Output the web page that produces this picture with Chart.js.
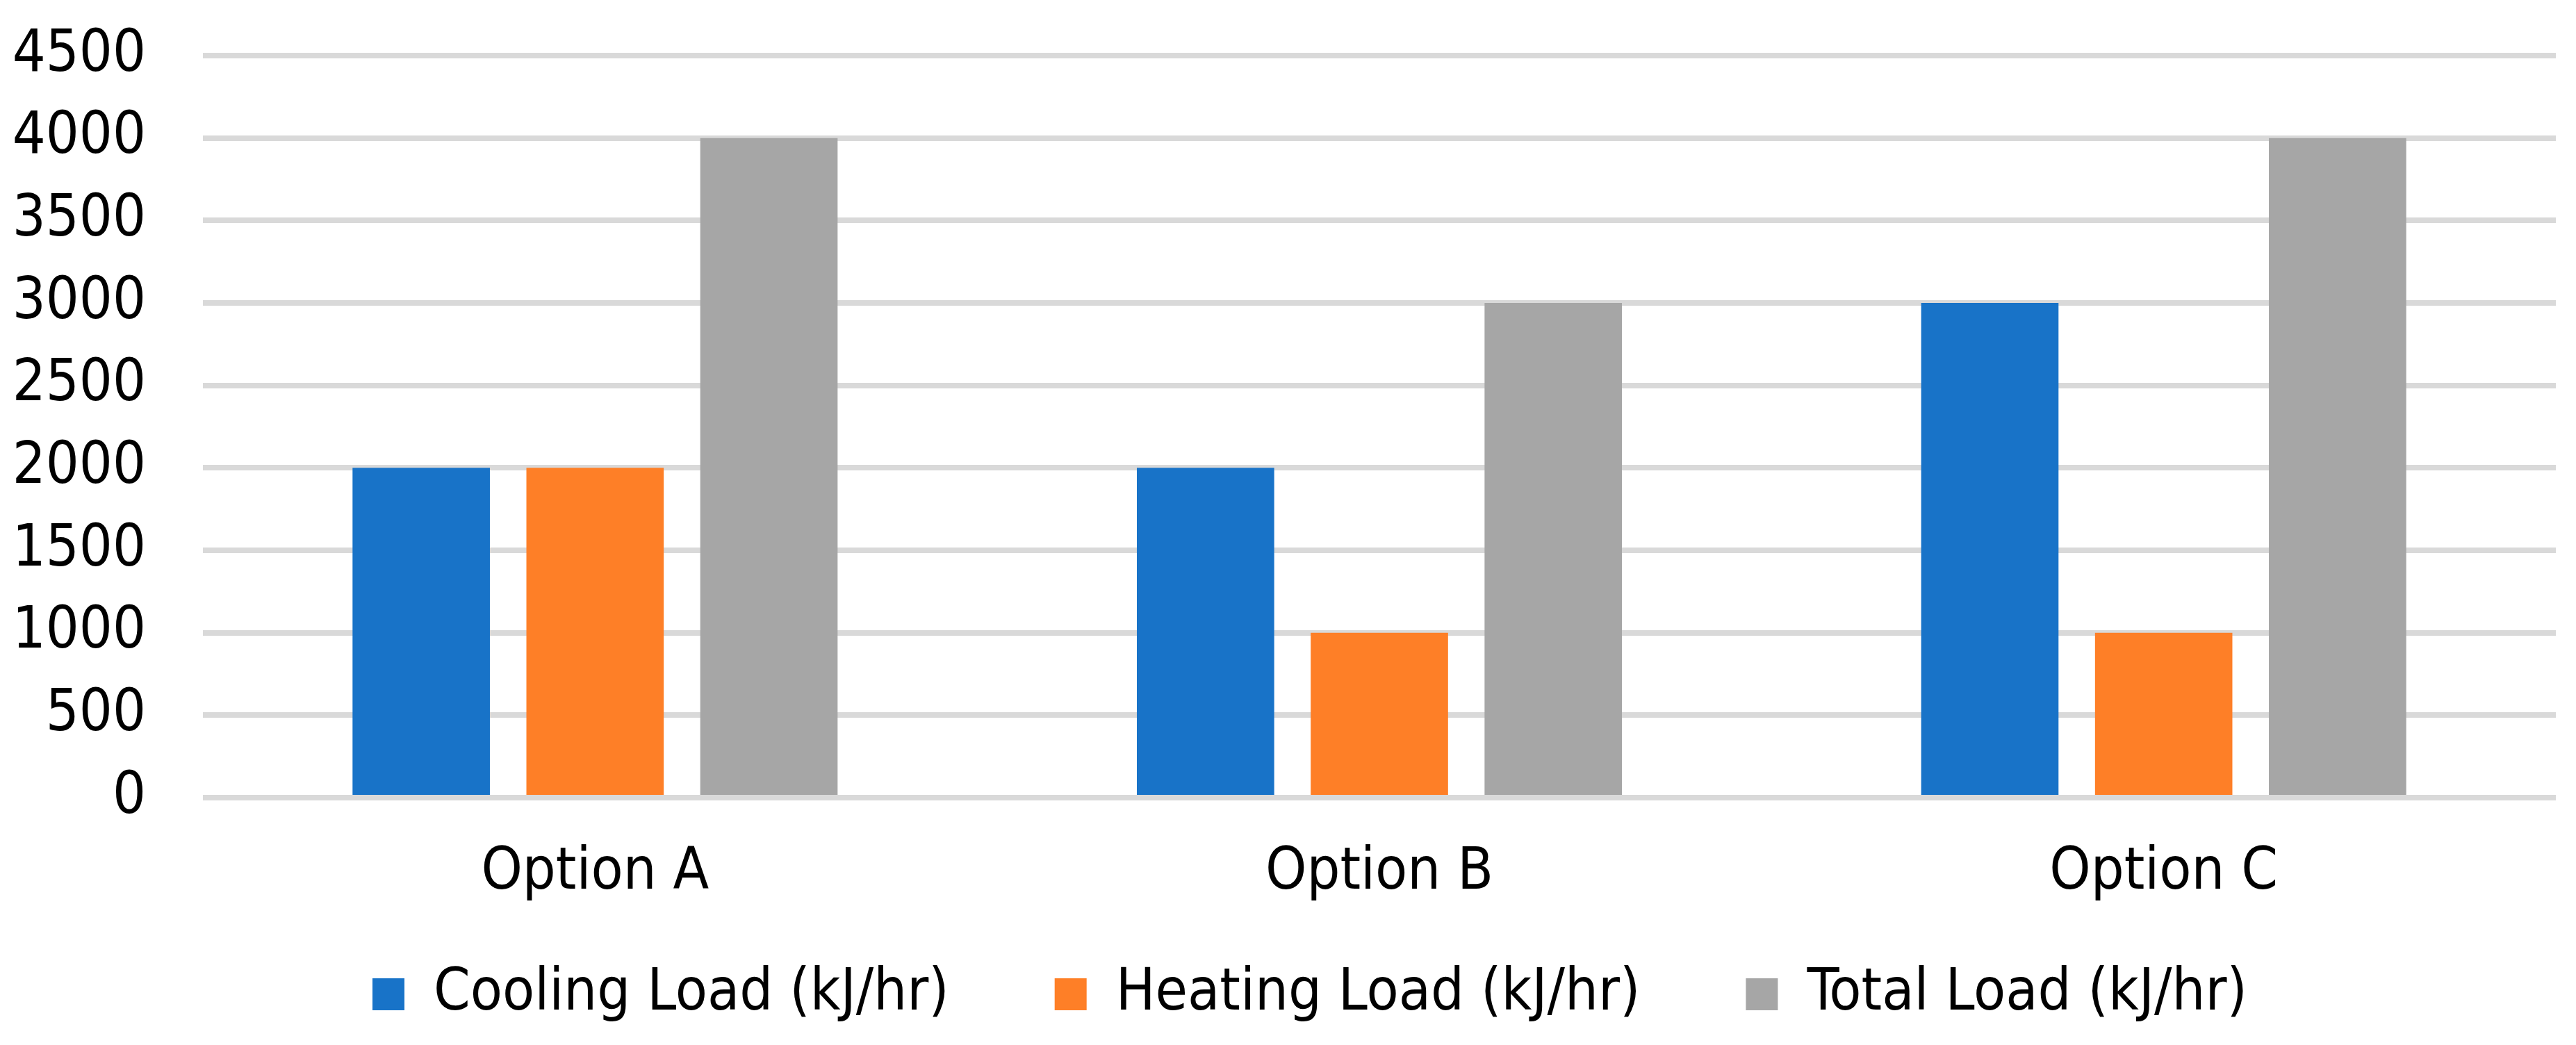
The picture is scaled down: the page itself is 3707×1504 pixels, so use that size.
<!DOCTYPE html>
<html>
<head>
<meta charset="utf-8">
<script src="https://cdn.jsdelivr.net/npm/chart.js@4"></script>
<style>
  html, body { margin: 0; padding: 0; background: #ffffff; }
  #wrap { width: 3707px; height: 1504px; }
</style>
</head>
<body>
<div id="wrap"><canvas id="c" width="3707" height="1504"></canvas></div>
<script>
const categories = ["Option A", "Option B", "Option C"];
const seriesNames = ["Cooling Load (kJ/hr)", "Heating Load (kJ/hr)", "Total Load (kJ/hr)"];
const coolingLoad = [2000, 2000, 3000];
const heatingLoad = [2000, 1000, 1000];
const totalLoad = [4000, 3000, 4000];
const yMin = 0, yMax = 4500, yStep = 500;

const colors = ["#1873c8", "#fe7f27", "#a6a6a6"];
const FONT = "'DejaVu Sans Condensed', 'DejaVu Sans', sans-serif";
const FS = 84;

// Layout tweak: let x labels draw below the (short) axis box, and nudge legend right.
const layoutTweak = {
  id: 'layoutTweak',
  afterLayout(chart) {
    chart.scales.x.bottom = chart.height;
    if (chart.legend) { chart.legend.left += 46; chart.legend.right += 46; }
  }
};

const ctx = document.getElementById('c').getContext('2d');
new Chart(ctx, {
  type: 'bar',
  data: {
    labels: categories,
    datasets: [coolingLoad, heatingLoad, totalLoad].map((d, i) => ({
      label: seriesNames[i],
      data: d,
      backgroundColor: colors[i],
      borderWidth: 0,
      barPercentage: 0.79,
      categoryPercentage: 0.665
    }))
  },
  plugins: [layoutTweak],
  options: {
    responsive: false,
    animation: false,
    devicePixelRatio: 1,
    layout: { padding: { top: 80, right: 29, left: 0, bottom: 21 } },
    plugins: {
      tooltip: { enabled: false },
      legend: {
        position: 'bottom',
        labels: {
          font: { family: FONT, size: FS },
          color: '#000000',
          boxWidth: 46,
          boxHeight: 46,
          padding: 152
        }
      }
    },
    scales: {
      x: {
        grid: { display: false, drawTicks: false },
        border: { display: false },
        ticks: { font: { family: FONT, size: FS }, color: '#000000', padding: 59 },
        afterFit: (s) => { s.height = 89; }
      },
      y: {
        min: yMin, max: yMax,
        ticks: {
          stepSize: yStep,
          font: { family: FONT, size: FS },
          color: '#000000',
          padding: 82,
          callback: (v) => String(v)
        },
        grid: { color: '#d9d9d9', lineWidth: 8, drawTicks: false },
        border: { display: false },
        afterFit: (s) => { s.width = 292; s.paddingTop = 0; s.paddingBottom = 0; }
      }
    }
  }
});
</script>
</body>
</html>
